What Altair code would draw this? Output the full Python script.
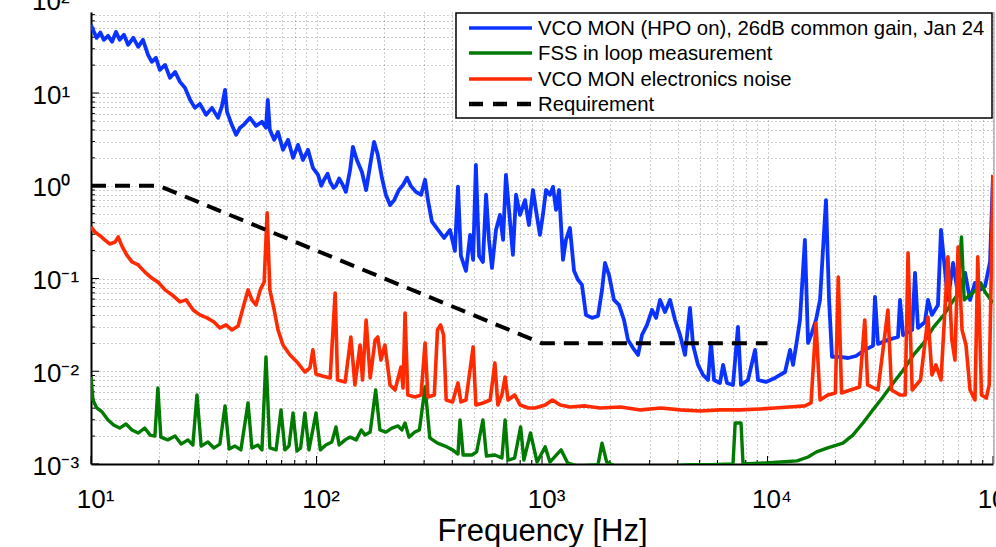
import altair as alt
import pandas as pd

# ---- spectra: (frequency [Hz], amplitude) ----
blue_pts = [
    (10.0, 54.4), (10.2, 48), (10.6, 39.4), (11.0, 45), (11.4, 37.5), (11.9, 41.4), (12.4, 35.7),
    (12.9, 45.7), (13.4, 37.5), (14.0, 42.5), (14.6, 33.1), (15.4, 39.4), (16.2, 31.5), (17.0, 37.5),
    (17.9, 25.8), (18.6, 21.7), (19.4, 24), (20.2, 17.8), (21.3, 20.1), (22.4, 14.6), (23.6, 16.9),
    (24.8, 13.2), (26.1, 11.4), (27.5, 8.45), (28.9, 6.92), (30.4, 7.64), (32.4, 5.82), (34.4, 6.92),
    (36.6, 5.40), (38.1, 7.28), (39.3, 10.8), (40.1, 6.27), (42.1, 4.54), (44.0, 3.54), (45.8, 4.22),
    (47.6, 4.54), (50.7, 5.40), (53.9, 4.43), (57.3, 4.89), (59.7, 4.22), (60.8, 8.45), (62.1, 4.01),
    (64.9, 3.13), (67.5, 3.81), (71.0, 2.44), (74.8, 3.13), (78.7, 2.00), (82.8, 2.76), (87.1, 1.90),
    (91.7, 2.44), (96.4, 1.56), (101.6, 1.31), (105, 1.0), (108, 1.16), (112, 1.35), (115, 1.10),
    (119, 0.95), (122, 0.998), (126, 1.2), (130, 1.05), (135, 0.86), (141, 1.49), (145, 2.63),
    (151, 1.90), (159, 1.41), (166, 0.90), (173, 1.68), (180, 2.98), (187, 2.16), (195, 1.22),
    (203, 0.80), (212, 0.62), (221, 0.70), (232, 0.90), (242, 1.02), (252, 1.22), (262, 0.998),
    (276, 0.86), (291, 0.80), (303, 1.16), (312, 0.70), (325, 0.41), (346, 0.334), (368, 0.274),
    (391, 0.334), (411, 0.199), (424, 0.98), (437, 0.175), (460, 0.121), (480, 0.295), (495, 0.159),
    (509, 1.68), (526, 0.175), (547, 0.151), (565, 0.80), (582, 0.261), (600, 0.130), (625, 0.334),
    (651, 0.485), (672, 0.261), (692, 1.31), (714, 0.55), (743, 0.180), (767, 0.80), (799, 0.485),
    (841, 0.70), (875, 0.378), (912, 0.90), (940, 0.55), (979, 0.295), (1009, 0.485), (1042, 0.90),
    (1084, 0.80), (1119, 0.973), (1154, 0.55), (1190, 0.90), (1239, 0.159), (1277, 0.261),
    (1330, 0.351), (1387, 0.121), (1445, 0.0966), (1504, 0.0853), (1567, 0.0405), (1667, 0.0376),
    (1771, 0.0394), (1846, 0.0754), (1903, 0.147), (1983, 0.109), (2085, 0.0588), (2194, 0.0519),
    (2311, 0.0357), (2406, 0.0218), (2533, 0.0178), (2667, 0.0150), (2775, 0.0246), (2922, 0.0316),
    (3075, 0.0458), (3206, 0.0376), (3337, 0.0588), (3510, 0.0436), (3697, 0.0588), (3890, 0.0357),
    (4095, 0.0246), (4308, 0.0150), (4531, 0.0482), (4677, 0.0192), (4921, 0.0117), (5178, 0.00912),
    (5449, 0.00805), (5617, 0.0202), (5794, 0.00805), (6155, 0.00748), (6353, 0.0117),
    (6610, 0.00748), (7031, 0.00712), (7396, 0.0301), (7626, 0.00712), (8195, 0.00805),
    (8805, 0.0170), (9078, 0.00805), (9846, 0.00767), (10800, 0.00847), (11960, 0.00982),
    (12590, 0.0170), (12980, 0.0117), (13520, 0.0218), (13930, 0.0357), (14650, 0.261),
    (15130, 0.0202), (15740, 0.0259), (16400, 0.0357), (17100, 0.0588), (17620, 0.204),
    (18170, 0.70), (18750, 0.0588), (19320, 0.0143), (20990, 0.0143), (22770, 0.0139),
    (24680, 0.0146), (27050, 0.0170), (29360, 0.0188), (29970, 0.0634), (30900, 0.0197),
    (34200, 0.0218), (37900, 0.0234), (38700, 0.0588), (39900, 0.0246), (43800, 0.0279),
    (45100, 0.115), (46500, 0.0293), (49900, 0.0340), (51500, 0.0588), (53600, 0.0405),
    (57000, 0.0519), (58800, 0.334), (61200, 0.124), (63100, 0.0588), (66500, 0.147),
    (70000, 0.0665), (75200, 0.115), (79100, 0.0588), (83200, 0.0897), (87500, 0.0754),
    (92200, 0.0823), (97000, 0.151), (100000, 1.31),
]

green_pts = [
    (10.0, 0.00868), (10.2, 0.00490), (10.6, 0.00402), (11.2, 0.00364), (11.9, 0.00298),
    (12.6, 0.00263), (13.4, 0.00244), (14.3, 0.00270), (15.2, 0.00233), (16.2, 0.00216),
    (17.3, 0.00244), (18.3, 0.00205), (19.2, 0.00200), (19.8, 0.00661), (20.4, 0.00195),
    (21.9, 0.00182), (23.6, 0.00200), (25.1, 0.00164), (26.9, 0.00182), (28.3, 0.00160),
    (29.5, 0.00555), (30.8, 0.00156), (33.0, 0.00173), (35.1, 0.00149), (37.3, 0.00164),
    (39.3, 0.00422), (41.0, 0.00145), (43.5, 0.00156), (46.2, 0.00142), (49.7, 0.00455),
    (51.7, 0.00149), (55.0, 0.00160), (57.3, 0.00142), (59.7, 0.0143), (62.1, 0.00149),
    (66.2, 0.00142), (69.6, 0.00383), (72.4, 0.00142), (75.5, 0.00156), (78.7, 0.00355),
    (81.9, 0.00138), (85.0, 0.00149), (88.8, 0.00355), (92.6, 0.00142), (99.5, 0.00355),
    (104, 0.00142), (110, 0.00160), (117, 0.00173), (122, 0.00251), (126, 0.00160),
    (134, 0.00182), (141, 0.00195), (150, 0.00182), (158, 0.00233), (164, 0.00205),
    (173, 0.00221), (183, 0.00628), (191, 0.00233), (203, 0.00221), (216, 0.00244),
    (230, 0.00257), (239, 0.00233), (247, 0.00277), (257, 0.00195), (273, 0.00221),
    (286, 0.00233), (303, 0.00677), (318, 0.00191), (344, 0.00168), (372, 0.00156),
    (401, 0.00142), (424, 0.00128), (433, 0.00298), (447, 0.00125), (489, 0.00125),
    (513, 0.00135), (547, 0.00298), (567, 0.00122), (618, 0.00125), (664, 0.00116),
    (686, 0.00298), (707, 0.00110), (756, 0.00116), (804, 0.00251), (831, 0.00110),
    (889, 0.00216), (951, 0.00105), (1033, 0.00153), (1084, 0.00105), (1215, 0.00142),
    (1302, 0.00102), (1445, 0.00095), (1771, 0.00098), (1846, 0.00168), (1936, 0.00105),
    (2102, 0.00095), (2453, 0.00093), (3010, 0.00095), (3697, 0.00095), (4531, 0.00098),
    (5560, 0.00098), (7031, 0.00100), (7190, 0.00277), (7630, 0.00277), (7790, 0.00100),
    (9290, 0.00102), (11400, 0.00105), (13520, 0.00108), (15130, 0.00119), (16500, 0.00135),
    (18500, 0.00149), (21600, 0.00168), (23900, 0.00205), (26500, 0.00277), (29300, 0.00383),
    (32500, 0.00528), (36100, 0.00748), (40000, 0.0103), (44400, 0.0150), (49300, 0.0202),
    (54600, 0.0301), (60600, 0.0405), (66000, 0.0560), (69400, 0.0665), (72500, 0.281),
    (74500, 0.0588), (79100, 0.0665), (84200, 0.0754), (88300, 0.0897), (92200, 0.0716),
    (98000, 0.0588), (100000, 0.0541),
]

red_pts = [
    (10.0, 0.361), (10.4, 0.318), (11.0, 0.288), (11.5, 0.261), (12.1, 0.236), (12.8, 0.248),
    (13.2, 0.281), (13.7, 0.225), (14.4, 0.180), (15.2, 0.151), (16.2, 0.140), (17.3, 0.118),
    (18.6, 0.101), (19.8, 0.0918), (21.3, 0.0754), (22.9, 0.0665), (24.8, 0.0560), (26.4, 0.0588),
    (28.4, 0.0458), (30.4, 0.0405), (32.7, 0.0376), (35.1, 0.0340), (37.3, 0.0293), (39.7, 0.0316),
    (42.1, 0.0279), (44.9, 0.0308), (47.6, 0.0519), (49.7, 0.0754), (51.7, 0.0588), (53.9, 0.0519),
    (56.3, 0.0754), (58.6, 0.0918), (60.4, 0.510), (62.1, 0.0754), (64.9, 0.0458), (67.5, 0.0279),
    (71.0, 0.0192), (76.3, 0.0150), (81.9, 0.0126), (88.8, 0.00982), (93.6, 0.0109), (96.4, 0.0170),
    (99.5, 0.00935), (106, 0.00889), (115, 0.00847), (121, 0.0699), (124, 0.00805), (134, 0.00767),
    (142, 0.0234), (148, 0.00712), (156, 0.0192), (160, 0.00805), (166, 0.0357), (173, 0.00847),
    (182, 0.0218), (187, 0.0234), (193, 0.0132), (201, 0.0192), (212, 0.00712), (223, 0.00628),
    (237, 0.0111), (242, 0.00659), (247, 0.0425), (254, 0.00555), (273, 0.00528), (291, 0.00555),
    (303, 0.0202), (312, 0.00528), (333, 0.00555), (344, 0.0279), (355, 0.0316), (366, 0.0246),
    (376, 0.00490), (401, 0.00467), (424, 0.00748), (437, 0.00467), (460, 0.00490), (495, 0.0183),
    (509, 0.00433), (547, 0.00455), (589, 0.00490), (618, 0.0123), (637, 0.00433), (664, 0.00555),
    (686, 0.00867), (707, 0.00490), (756, 0.00555), (799, 0.00433), (870, 0.00402), (931, 0.00402),
    (1033, 0.00433), (1111, 0.00490), (1205, 0.00433), (1330, 0.00412), (1552, 0.00423),
    (1810, 0.00402), (2230, 0.00412), (2740, 0.00383), (3370, 0.00402), (4100, 0.00383),
    (5030, 0.00373), (6160, 0.00383), (7570, 0.00383), (9290, 0.00392), (10800, 0.00402),
    (12500, 0.00412), (14650, 0.00423), (15600, 0.00455), (16400, 0.0332), (17100, 0.00490),
    (18500, 0.00555), (20000, 0.00583), (20600, 0.104), (21300, 0.00583), (23300, 0.00628),
    (25600, 0.00677), (27000, 0.0357), (27800, 0.00712), (30900, 0.00628), (34200, 0.0458),
    (35500, 0.00628), (38700, 0.00555), (40800, 0.00555), (42000, 0.189), (43800, 0.00628),
    (47700, 0.00805), (51500, 0.0385), (53600, 0.00912), (55800, 0.0117), (58800, 0.00805),
    (63100, 0.171), (65700, 0.0218), (67800, 0.0132), (70000, 0.219), (72900, 0.0279),
    (75900, 0.0192), (79100, 0.00628), (83200, 0.00490), (85600, 0.171), (88900, 0.00555),
    (93400, 0.00515), (96200, 0.00712), (100000, 1.31),
]

requirement_pts = [(10, 1.0), (20, 1.0), (1000, 0.02), (10000, 0.02)]

series_names = [
    "VCO MON (HPO on), 26dB common gain, Jan 24",
    "FSS in loop measurement",
    "VCO MON electronics noise",
    "Requirement",
]
series_colors = ["#0b33ff", "#007a00", "#ff2a00", "#000000"]

x_decades = [10, 100, 1000, 10000, 100000]
x_decade_labels = ["10¹", "10²", "10³", "10⁴", "10⁵"]
y_decades = [0.001, 0.01, 0.1, 1, 10]
y_decade_labels = ["10⁻³", "10⁻²", "10⁻¹", "10⁰", "10¹"]

# ---- layout ----
W, H = 902, 452
FONT = "Liberation Sans"
DASH = [15, 9]

x_ticks = [m * 10 ** k for k in range(1, 5) for m in range(1, 10)] + [100000]
y_ticks = [m * 10.0 ** k for k in range(-3, 2) for m in range(1, 10) if m * 10.0 ** k < 74]


def decade_expr(values, labels):
    parts = " : ".join(f"datum.value == {v} ? '{t}'" for v, t in zip(values, labels))
    return parts + " : ''"


xs = alt.Scale(type="log", domain=[10, 100000], nice=False)
ys = alt.Scale(type="log", domain=[0.001, 74.8], nice=False)

grid_style = dict(grid=True, gridColor="#3a3a3a", gridDash=[1, 3], gridOpacity=0.5, gridWidth=1)

x_axis = alt.Axis(
    values=x_ticks, labelExpr=decade_expr(x_decades, x_decade_labels),
    labelFont=FONT, labelFontSize=26, labelColor="black", labelBaseline="alphabetic",
    labelPadding=43, labelOffset=4, labelFlush=False, labelOverlap=False,
    ticks=False, tickSize=0, domainColor="black", domainWidth=2,
    title="Frequency [Hz]", titleFont=FONT, titleFontSize=31, titleFontWeight="normal",
    titleColor="black", titleBaseline="alphabetic", titleY=76, **grid_style,
)
y_axis = alt.Axis(
    values=y_ticks, labelExpr=decade_expr(y_decades, y_decade_labels),
    labelFont=FONT, labelFontSize=26, labelColor="black", labelAlign="left",
    labelBaseline="middle", labelPadding=59, labelOffset=2, labelFlush=False, labelOverlap=False,
    ticks=False, tickSize=0, domainColor="black", domainWidth=2, title="", **grid_style,
)

x_enc = alt.X("f:Q", scale=xs, axis=x_axis)
y_enc = alt.Y("v:Q", scale=ys, axis=y_axis)


def spectrum(pts, color, width, dash=None):
    df = pd.DataFrame(pts, columns=["f", "v"])
    kw = dict(color=color, strokeWidth=width, clip=True, strokeJoin="round")
    if dash is not None:
        kw["strokeDash"] = dash
    return alt.Chart(df).mark_line(**kw).encode(x=x_enc, y=y_enc)


# inward axis ticks
x_major = pd.DataFrame({"f": x_decades})
x_minor = pd.DataFrame({"f": [t for t in x_ticks if t not in x_decades]})
y_major = pd.DataFrame({"v": y_decades})
y_minor = pd.DataFrame({"v": [t for t in y_ticks if t not in y_decades]})


def xtick_layer(df, length):
    return alt.Chart(df).mark_rule(color="black", strokeWidth=1).encode(
        x=x_enc, y=alt.value(H), y2=alt.value(H - length))


def ytick_layer(df, length):
    return alt.Chart(df).mark_rule(color="black", strokeWidth=1).encode(
        y=y_enc, x=alt.value(0), x2=alt.value(length))


one = pd.DataFrame({"k": [0]})

layers = [
    xtick_layer(x_major, 8), xtick_layer(x_minor, 4),
    ytick_layer(y_major, 8), ytick_layer(y_minor, 4),
    # right frame edge
    alt.Chart(one).mark_rule(color="#8a8a8a", strokeWidth=1).encode(
        x=alt.value(W + 1), y=alt.value(0), y2=alt.value(H)),
    spectrum(blue_pts, series_colors[0], 3.8),
    spectrum(green_pts, series_colors[1], 3.4),
    spectrum(red_pts, series_colors[2], 3.6),
    spectrum(requirement_pts, series_colors[3], 4, DASH),
    # top decade label, mostly above the frame
    alt.Chart(one).mark_text(text="10²", font=FONT, fontSize=26, color="black",
                             align="left", baseline="middle").encode(
        x=alt.value(-59), y=alt.value(-10)),
]

# legend box
layers.append(
    alt.Chart(one).mark_rect(fill="white", stroke="black", strokeWidth=1.5).encode(
        x=alt.value(365), x2=alt.value(901), y=alt.value(1), y2=alt.value(106))
)
row_y = [16, 41, 67, 92]
for name, color, ry in zip(series_names, series_colors, row_y):
    rule_kw = dict(color=color, strokeWidth=3.5 if color != "#000000" else 4.5)
    if color == "#000000":
        rule_kw["strokeDash"] = [14, 10]
    layers.append(
        alt.Chart(one).mark_rule(**rule_kw).encode(
            x=alt.value(378), x2=alt.value(441), y=alt.value(ry))
    )
    layers.append(
        alt.Chart(one).mark_text(text=name, font=FONT, fontSize=20.3, color="black",
                                 align="left", baseline="middle").encode(
            x=alt.value(447), y=alt.value(ry + 1))
    )

chart = alt.layer(*layers).properties(
    width=W, height=H,
    autosize=alt.AutoSizeParams(type="none"),
    padding={"left": 91, "top": 12, "right": 3, "bottom": 83},
    background="white",
).configure_view(stroke=None)

chart.save("out.html", embed_options={"renderer": "svg", "actions": False})
